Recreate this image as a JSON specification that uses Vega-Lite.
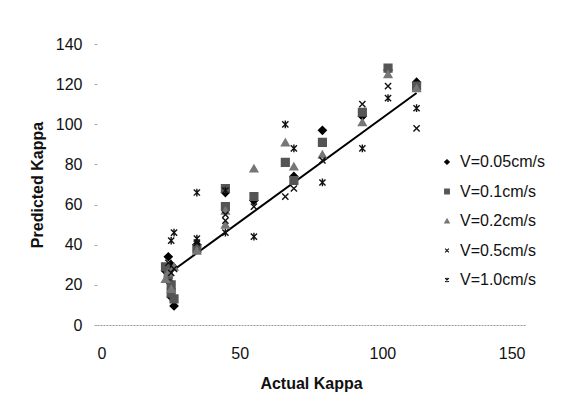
{
  "$schema": "https://vega.github.io/schema/vega-lite/v6.json",
  "width": 428,
  "height": 281,
  "autosize": {"type": "none"},
  "padding": {"left": 97, "top": 44, "right": 59, "bottom": 80},
  "background": "white",
  "config": {
    "view": {"stroke": null},
    "font": "Liberation Sans",
    "axis": {"grid": false, "labelFont": "Liberation Sans", "titleFont": "Liberation Sans", "labelColor": "#111", "titleColor": "#111"}
  },
  "datasets": {
    "pts": [
      {"k": 25, "p": 34, "s": "V=0.05cm/s"},
      {"k": 26, "p": 30, "s": "V=0.05cm/s"},
      {"k": 24, "p": 27, "s": "V=0.05cm/s"},
      {"k": 25, "p": 22, "s": "V=0.05cm/s"},
      {"k": 26, "p": 14, "s": "V=0.05cm/s"},
      {"k": 27, "p": 9.5, "s": "V=0.05cm/s"},
      {"k": 35, "p": 40, "s": "V=0.05cm/s"},
      {"k": 45, "p": 66, "s": "V=0.05cm/s"},
      {"k": 55, "p": 62, "s": "V=0.05cm/s"},
      {"k": 69, "p": 74, "s": "V=0.05cm/s"},
      {"k": 79, "p": 97, "s": "V=0.05cm/s"},
      {"k": 93, "p": 104, "s": "V=0.05cm/s"},
      {"k": 102, "p": 127, "s": "V=0.05cm/s"},
      {"k": 112, "p": 121, "s": "V=0.05cm/s"},
      {"k": 24, "p": 29, "s": "V=0.1cm/s"},
      {"k": 25, "p": 25, "s": "V=0.1cm/s"},
      {"k": 26, "p": 20, "s": "V=0.1cm/s"},
      {"k": 26, "p": 16, "s": "V=0.1cm/s"},
      {"k": 27, "p": 13, "s": "V=0.1cm/s"},
      {"k": 35, "p": 38, "s": "V=0.1cm/s"},
      {"k": 45, "p": 68, "s": "V=0.1cm/s"},
      {"k": 45, "p": 59, "s": "V=0.1cm/s"},
      {"k": 55, "p": 64, "s": "V=0.1cm/s"},
      {"k": 66, "p": 81, "s": "V=0.1cm/s"},
      {"k": 69, "p": 72, "s": "V=0.1cm/s"},
      {"k": 79, "p": 91, "s": "V=0.1cm/s"},
      {"k": 93, "p": 106, "s": "V=0.1cm/s"},
      {"k": 102, "p": 128, "s": "V=0.1cm/s"},
      {"k": 112, "p": 119, "s": "V=0.1cm/s"},
      {"k": 24, "p": 23, "s": "V=0.2cm/s"},
      {"k": 25, "p": 26, "s": "V=0.2cm/s"},
      {"k": 26, "p": 18, "s": "V=0.2cm/s"},
      {"k": 27, "p": 29, "s": "V=0.2cm/s"},
      {"k": 35, "p": 37, "s": "V=0.2cm/s"},
      {"k": 45, "p": 50, "s": "V=0.2cm/s"},
      {"k": 45, "p": 57, "s": "V=0.2cm/s"},
      {"k": 55, "p": 78, "s": "V=0.2cm/s"},
      {"k": 66, "p": 91, "s": "V=0.2cm/s"},
      {"k": 69, "p": 79, "s": "V=0.2cm/s"},
      {"k": 79, "p": 85, "s": "V=0.2cm/s"},
      {"k": 93, "p": 101, "s": "V=0.2cm/s"},
      {"k": 102, "p": 125, "s": "V=0.2cm/s"},
      {"k": 112, "p": 118, "s": "V=0.2cm/s"},
      {"k": 25, "p": 31, "s": "V=0.5cm/s"},
      {"k": 26, "p": 26, "s": "V=0.5cm/s"},
      {"k": 27, "p": 28, "s": "V=0.5cm/s"},
      {"k": 35, "p": 41, "s": "V=0.5cm/s"},
      {"k": 45, "p": 55, "s": "V=0.5cm/s"},
      {"k": 45, "p": 52, "s": "V=0.5cm/s"},
      {"k": 55, "p": 59, "s": "V=0.5cm/s"},
      {"k": 66, "p": 64, "s": "V=0.5cm/s"},
      {"k": 69, "p": 68, "s": "V=0.5cm/s"},
      {"k": 79, "p": 82, "s": "V=0.5cm/s"},
      {"k": 93, "p": 110, "s": "V=0.5cm/s"},
      {"k": 102, "p": 119, "s": "V=0.5cm/s"},
      {"k": 112, "p": 98, "s": "V=0.5cm/s"},
      {"k": 26, "p": 42, "s": "V=1.0cm/s"},
      {"k": 27, "p": 46, "s": "V=1.0cm/s"},
      {"k": 35, "p": 66, "s": "V=1.0cm/s"},
      {"k": 35, "p": 43, "s": "V=1.0cm/s"},
      {"k": 45, "p": 46, "s": "V=1.0cm/s"},
      {"k": 45, "p": 67, "s": "V=1.0cm/s"},
      {"k": 55, "p": 44, "s": "V=1.0cm/s"},
      {"k": 66, "p": 100, "s": "V=1.0cm/s"},
      {"k": 69, "p": 88, "s": "V=1.0cm/s"},
      {"k": 79, "p": 71, "s": "V=1.0cm/s"},
      {"k": 93, "p": 88, "s": "V=1.0cm/s"},
      {"k": 102, "p": 113, "s": "V=1.0cm/s"},
      {"k": 112, "p": 108, "s": "V=1.0cm/s"}
    ],
    "fit": [
      {"k": 26, "p": 26.5},
      {"k": 112, "p": 115.6}
    ]
  },
  "layer": [
    {
      "data": {"name": "fit"},
      "mark": {"type": "line", "color": "black", "strokeWidth": 2},
      "encoding": {
        "x": {"field": "k", "type": "quantitative"},
        "y": {"field": "p", "type": "quantitative"}
      }
    },
    {
      "data": {"name": "pts"},
      "mark": {"type": "point", "filled": true, "size": 60, "strokeWidth": 1.4, "opacity": 1},
      "encoding": {
        "x": {
          "field": "k", "type": "quantitative",
          "scale": {"domain": [0, 150], "nice": false},
          "axis": {
            "values": [0, 50, 100, 150], "title": "Actual Kappa",
            "labelFontSize": 16, "titleFontSize": 16, "titleFontWeight": "bold",
            "ticks": false, "labelPadding": 20, "titlePadding": 14,
            "domainColor": "#999", "domainDash": [2, 1], "domainWidth": 1
          }
        },
        "y": {
          "field": "p", "type": "quantitative",
          "scale": {"domain": [0, 140], "nice": false},
          "axis": {
            "values": [0, 20, 40, 60, 80, 100, 120, 140], "title": "Predicted Kappa",
            "labelFontSize": 16, "titleFontSize": 16, "titleFontWeight": "bold",
            "domain": false, "tickColor": "#aaa", "tickSize": 3,
            "labelPadding": 12, "titlePadding": 10
          }
        },
        "color": {
          "field": "s", "type": "nominal",
          "scale": {"domain": ["V=0.05cm/s", "V=0.1cm/s", "V=0.2cm/s", "V=0.5cm/s", "V=1.0cm/s"], "range": ["#000000", "#555555", "#777777", "#111111", "#111111"]},
          "legend": {
            "title": null, "orient": "none", "legendX": 342, "legendY": 110,
            "labelFontSize": 16, "labelColor": "#111", "symbolSize": 22, "rowPadding": 13.5,
            "labelOffset": 5, "symbolStrokeWidth": 1.1, "symbolStrokeColor": "#222"
          }
        },
        "stroke": {
          "field": "s", "type": "nominal",
          "scale": {"domain": ["V=0.05cm/s", "V=0.1cm/s", "V=0.2cm/s", "V=0.5cm/s", "V=1.0cm/s"], "range": ["#000000", "#555555", "#777777", "#111111", "#111111"]},
          "legend": null
        },
        "shape": {
          "field": "s", "type": "nominal",
          "scale": {"domain": ["V=0.05cm/s", "V=0.1cm/s", "V=0.2cm/s", "V=0.5cm/s", "V=1.0cm/s"], "range": ["diamond", "square", "triangle-up", "M-0.8,-0.8L0.8,0.8M-0.8,0.8L0.8,-0.8", "M-0.8,-0.8L0.8,0.8M-0.8,0.8L0.8,-0.8M0,-1L0,1"]},
          "legend": {
            "title": null, "orient": "none", "legendX": 342, "legendY": 110,
            "labelFontSize": 16, "labelColor": "#111", "symbolSize": 22, "rowPadding": 13.5,
            "labelOffset": 5, "symbolStrokeWidth": 1.1, "symbolStrokeColor": "#222"
          }
        }
      }
    }
  ]
}
